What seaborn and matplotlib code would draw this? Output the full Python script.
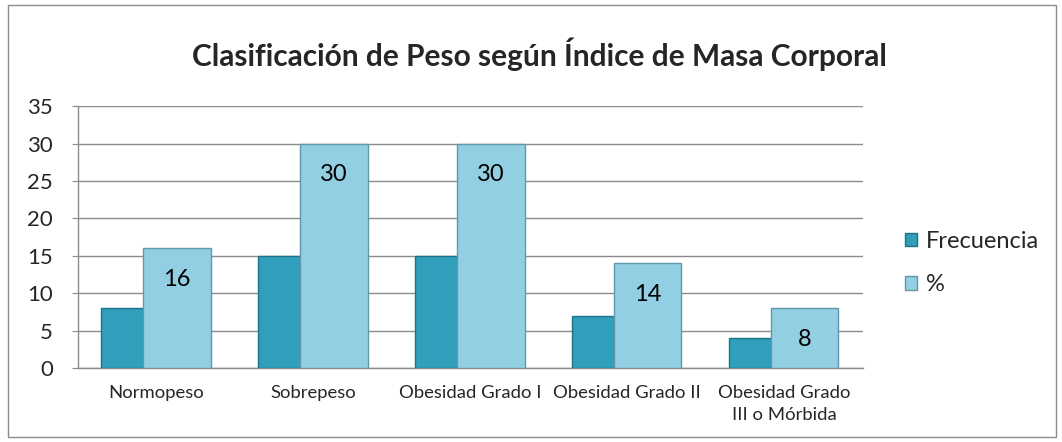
import pandas as pd
import seaborn as sns
import matplotlib.pyplot as plt
from matplotlib.patches import Rectangle

# Chart data
categorias = ["Normopeso", "Sobrepeso", "Obesidad Grado I", "Obesidad Grado II",
              "Obesidad Grado\nIII o Mórbida"]
frecuencia = [8, 15, 15, 7, 4]
porcentaje = [16, 30, 30, 14, 8]
series = ["Frecuencia", "%"]
colores = ["#2f9fbb", "#93cfe2"]
bordes = ["#1d7488", "#5f98aa"]

df = pd.DataFrame({
    "Categoria": categorias * 2,
    "Valor": frecuencia + porcentaje,
    "Serie": [series[0]] * len(categorias) + [series[1]] * len(categorias),
})

sns.set_style("white")
plt.rcParams["font.family"] = ["Lato", "DejaVu Sans"]

fig = plt.figure(figsize=(10.62, 4.42), dpi=100)
ax = fig.add_axes([0.0734, 0.167, 0.739, 0.593])

sns.barplot(data=df, x="Categoria", y="Valor", hue="Serie", palette=colores,
            ax=ax, legend=False, zorder=3, saturation=1)

# overlap the two series like the original
n = len(categorias)
ancho = 0.43
offsets = [-0.14, 0.13]
for i, cont in enumerate(ax.containers):
    for j, p in enumerate(cont.patches):
        p.set_width(ancho)
        p.set_x(j + offsets[i] - ancho / 2)
        p.set_edgecolor(bordes[i])
        p.set_linewidth(1.0)

# value labels on the % bars
for j, v in enumerate(porcentaje):
    ax.annotate(str(v), xy=(j + offsets[1], v), xytext=(0, -31),
                textcoords="offset pixels", ha="center", va="center",
                fontsize=17, color="black", zorder=5)

ax.set_xlim(-0.5, n - 0.5)
ax.set_ylim(0, 35)
ax.set_yticks(range(0, 36, 5))
ax.yaxis.grid(True, color="#8c8c8c", linewidth=1.0, zorder=0)
ax.set_axisbelow(True)
ax.tick_params(axis="y", labelsize=16, length=4, color="#8c8c8c", left=True, pad=14)
ax.tick_params(axis="x", labelsize=13.3, length=0, pad=12)
for lbl in ax.get_xticklabels():
    lbl.set_linespacing(1.45)
ax.set_xlabel("")
ax.set_ylabel("")
for s in ["top", "right"]:
    ax.spines[s].set_visible(False)
for s in ["left", "bottom"]:
    ax.spines[s].set_color("#8c8c8c")
    ax.spines[s].set_linewidth(1.0)

fig.suptitle("Clasificación de Peso según Índice de Masa Corporal",
             fontsize=21.5, fontweight="bold", x=0.508, y=0.878, va="center")

handles = [Rectangle((0, 0), 1, 1, facecolor=colores[k], edgecolor=bordes[k])
           for k in range(2)]
fig.legend(handles, series, loc="center left", bbox_to_anchor=(0.832, 0.405),
           frameon=False, fontsize=17, handlelength=0.5, handleheight=0.5,
           handletextpad=0.4, labelspacing=0.95)

fig.patches.append(Rectangle((0.008, 0.012), 0.986, 0.976, transform=fig.transFigure,
                             fill=False, edgecolor="#8c8c8c", linewidth=1.0))

fig.savefig("out.png", dpi=100)
